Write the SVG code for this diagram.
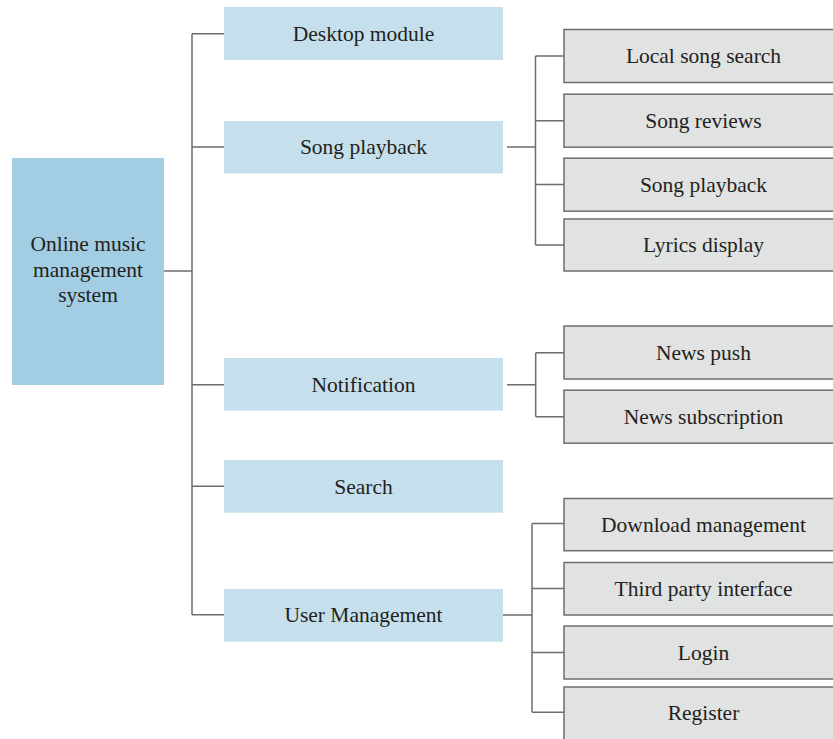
<svg xmlns="http://www.w3.org/2000/svg" width="833" height="739" viewBox="0 0 833 739">
<style>
.root{fill:#a2cde2}
.l1{fill:#c5e0ec}
.l2{fill:#e1e2e2;stroke:#6e6e6e;stroke-width:1.5}
text{font-family:"Liberation Serif","Times New Roman",serif;font-size:21.5px;fill:#231f20;text-anchor:middle}
.c{fill:none;stroke:#6d6d6d;stroke-width:1.5}
</style>
<rect width="833" height="739" fill="#ffffff"/>
<g id="connectors">
<path class="c" d="M164,271H192M192,33.7V614.7M192,33.7H224M192,147H226M192,384.7H226M192,486.3H224M192,614.7H224"/>
<path class="c" d="M507,147H535.5M535.5,56V245M535.5,56H564M535.5,120.7H564M535.5,184.5H564M535.5,245H564"/>
<path class="c" d="M507,384.7H535.7M535.7,352.7V416.7M535.7,352.7H564M535.7,416.7H564"/>
<path class="c" d="M503,615H532M532,523.5V712.3M532,523.5H564M532,588.5H564M532,652.5H564M532,712.3H564"/>
</g>
<g id="root">
<rect class="root" x="12" y="158" width="152" height="227"/>
<text x="88" y="251">Online music</text>
<text x="88" y="277">management</text>
<text x="88" y="302">system</text>
</g>
<g id="desktop"><rect class="l1" x="224" y="7" width="279" height="53"/><text x="363.5" y="41">Desktop module</text></g>
<g id="songplayback"><rect class="l1" x="224" y="121" width="279" height="52.5"/><text x="363.5" y="154">Song playback</text></g>
<g id="notification"><rect class="l1" x="224" y="358" width="279" height="52.7"/><text x="363.5" y="391.5">Notification</text></g>
<g id="search"><rect class="l1" x="224" y="460" width="279" height="52.7"/><text x="363.5" y="493.5">Search</text></g>
<g id="usermgmt"><rect class="l1" x="224" y="589" width="279" height="52.7"/><text x="363.5" y="622">User Management</text></g>
<g id="localsearch"><rect class="l2" x="564" y="29.5" width="280" height="53"/><text x="703.5" y="63">Local song search</text></g>
<g id="reviews"><rect class="l2" x="564" y="94.2" width="280" height="53"/><text x="703.5" y="128">Song reviews</text></g>
<g id="playback2"><rect class="l2" x="564" y="158.2" width="280" height="53"/><text x="703.5" y="192">Song playback</text></g>
<g id="lyrics"><rect class="l2" x="564" y="219" width="280" height="52"/><text x="703.5" y="252">Lyrics display</text></g>
<g id="newspush"><rect class="l2" x="564" y="326" width="280" height="53"/><text x="703.5" y="360">News push</text></g>
<g id="newssub"><rect class="l2" x="564" y="390.2" width="280" height="53"/><text x="703.5" y="424">News subscription</text></g>
<g id="download"><rect class="l2" x="564" y="498.5" width="280" height="52.2"/><text x="703.5" y="532">Download management</text></g>
<g id="thirdparty"><rect class="l2" x="564" y="562.5" width="280" height="52.5"/><text x="703.5" y="596">Third party interface</text></g>
<g id="login"><rect class="l2" x="564" y="626" width="280" height="53"/><text x="703.5" y="660">Login</text></g>
<g id="register"><rect class="l2" x="564" y="687" width="280" height="54"/><text x="703.5" y="720">Register</text></g>
</svg>
